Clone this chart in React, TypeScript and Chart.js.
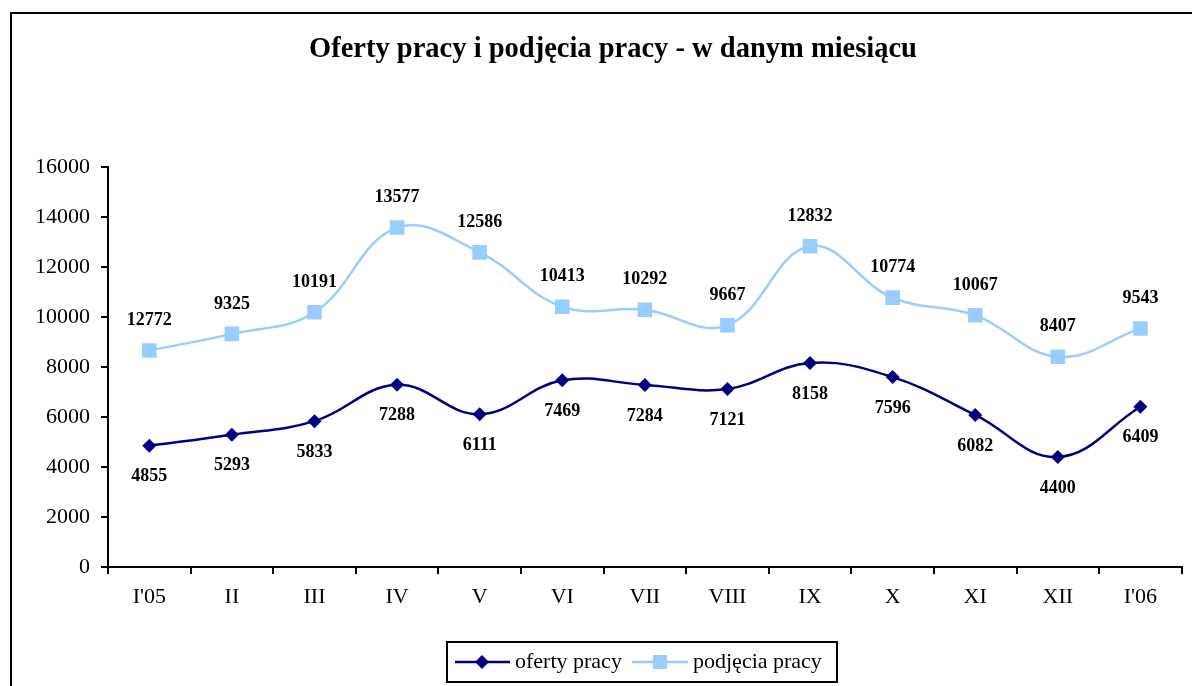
import React, { useEffect, useRef } from "react";
import { Chart, registerables } from "chart.js";

Chart.register(...registerables);

const categories = ["I'05", "II", "III", "IV", "V", "VI", "VII", "VIII", "IX", "X", "XI", "XII", "I'06"];
const ofertyValues = [4855, 5293, 5833, 7288, 6111, 7469, 7284, 7121, 8158, 7596, 6082, 4400, 6409];
const podjeciaValues = [8660, 9325, 10191, 13577, 12586, 10413, 10292, 9667, 12832, 10774, 10067, 8407, 9543];
const podjeciaLabels = ["12772", "9325", "10191", "13577", "12586", "10413", "10292", "9667", "12832", "10774", "10067", "8407", "9543"];
const ofertyLabels = ofertyValues.map((v) => String(v));
const yTicks = [0, 2000, 4000, 6000, 8000, 10000, 12000, 14000, 16000];

const TITLE = "Oferty pracy i podjęcia pracy - w danym miesiącu";
const SERIF = "'Liberation Serif', 'Times New Roman', serif";
const NAVY = "#000080";
const LIGHT = "#99CCFF";

const framePlugin = {
  id: "frame",
  beforeDraw(chart: any) {
    const ctx = chart.ctx;
    ctx.save();
    ctx.fillStyle = "#ffffff";
    ctx.fillRect(0, 0, chart.width, chart.height);
    ctx.strokeStyle = "#000";
    ctx.lineWidth = 2;
    ctx.strokeRect(11, 13, 1400, 1000);
    ctx.fillStyle = "#000";
    ctx.font = `bold 28.5px ${SERIF}`;
    ctx.textAlign = "center";
    ctx.textBaseline = "alphabetic";
    ctx.fillText(TITLE, 613, 57);
    ctx.restore();
  },
  afterDatasetsDraw(chart: any) {
    const ctx = chart.ctx;
    ctx.save();
    ctx.fillStyle = "#000";
    ctx.font = `bold 18px ${SERIF}`;
    ctx.textAlign = "center";
    ctx.textBaseline = "middle";
    const m0 = chart.getDatasetMeta(0);
    const m1 = chart.getDatasetMeta(1);
    m0.data.forEach((p: any, i: number) => {
      ctx.fillText(ofertyLabels[i], p.x, p.y + 31);
    });
    m1.data.forEach((p: any, i: number) => {
      ctx.fillText(podjeciaLabels[i], p.x, p.y - 30);
    });
    // legend
    const lx = 447, ly = 642, lw = 390, lh = 40;
    ctx.fillStyle = "#fff";
    ctx.fillRect(lx, ly, lw, lh);
    ctx.strokeStyle = "#000";
    ctx.lineWidth = 2;
    ctx.strokeRect(lx, ly, lw, lh);
    const cy = ly + lh / 2;
    // oferty
    ctx.strokeStyle = NAVY;
    ctx.lineWidth = 2.5;
    ctx.beginPath();
    ctx.moveTo(455, cy);
    ctx.lineTo(510, cy);
    ctx.stroke();
    ctx.fillStyle = NAVY;
    ctx.beginPath();
    ctx.moveTo(482 - 7, cy);
    ctx.lineTo(482, cy - 7);
    ctx.lineTo(482 + 7, cy);
    ctx.lineTo(482, cy + 7);
    ctx.closePath();
    ctx.fill();
    // podjecia
    ctx.strokeStyle = LIGHT;
    ctx.beginPath();
    ctx.moveTo(632, cy);
    ctx.lineTo(688, cy);
    ctx.stroke();
    ctx.fillStyle = LIGHT;
    ctx.fillRect(660 - 7, cy - 7, 14, 14);
    ctx.fillStyle = "#000";
    ctx.font = `22px ${SERIF}`;
    ctx.textAlign = "left";
    ctx.textBaseline = "middle";
    ctx.fillText("oferty pracy", 515, cy);
    ctx.fillText("podjęcia pracy", 693, cy);
    ctx.restore();
  },
};

export default function App() {
  const ref = useRef<HTMLCanvasElement | null>(null);
  useEffect(() => {
    if (!ref.current) return;
    const chart = new Chart(ref.current, {
      type: "line",
      data: {
        labels: categories,
        datasets: [
          {
            label: "oferty pracy",
            data: ofertyValues,
            borderColor: NAVY,
            backgroundColor: NAVY,
            borderWidth: 2.5,
            pointStyle: "rectRot",
            pointRadius: 7,
            pointBorderWidth: 0,
            tension: 0.4,
          },
          {
            label: "podjęcia pracy",
            data: podjeciaValues,
            borderColor: LIGHT,
            backgroundColor: LIGHT,
            borderWidth: 2.5,
            pointStyle: "rect",
            pointRadius: 10.3,
            pointBorderWidth: 0,
            tension: 0.4,
          },
        ],
      },
      options: {
        animation: false,
        responsive: false,
        maintainAspectRatio: false,
        layout: { padding: { left: 0, top: 167, right: 8, bottom: 0 } },
        plugins: {
          legend: { display: false },
          title: { display: false },
          tooltip: { enabled: false },
        },
        scales: {
          x: {
            type: "category",
            offset: true,
            grid: {
              offset: true,
              drawOnChartArea: false,
              drawTicks: true,
              tickLength: 7,
              color: "#000",
              lineWidth: 2,
            },
            border: { color: "#000", width: 2 },
            ticks: {
              color: "#000",
              font: { family: SERIF, size: 22 },
              padding: 10,
              maxRotation: 0,
              autoSkip: false,
            },
            afterFit(scale: any) {
              scale.height = 119;
            },
          },
          y: {
            min: 0,
            max: 16000,
            afterBuildTicks(scale: any) {
              scale.ticks = yTicks.map((v) => ({ value: v }));
            },
            grid: {
              drawOnChartArea: false,
              drawTicks: true,
              tickLength: 7,
              color: "#000",
              lineWidth: 2,
            },
            border: { color: "#000", width: 2 },
            ticks: {
              color: "#000",
              font: { family: SERIF, size: 22 },
              padding: 11,
              callback: (v: any) => String(v),
            },
            afterFit(scale: any) {
              scale.width = 108;
            },
          },
        },
      },
      plugins: [framePlugin],
    });
    return () => chart.destroy();
  }, []);
  return (
    <div style={{ position: "fixed", left: 0, top: 0, width: 1192, height: 686 }}>
      <canvas ref={ref} width={1192} height={686} style={{ display: "block" }} />
    </div>
  );
}
